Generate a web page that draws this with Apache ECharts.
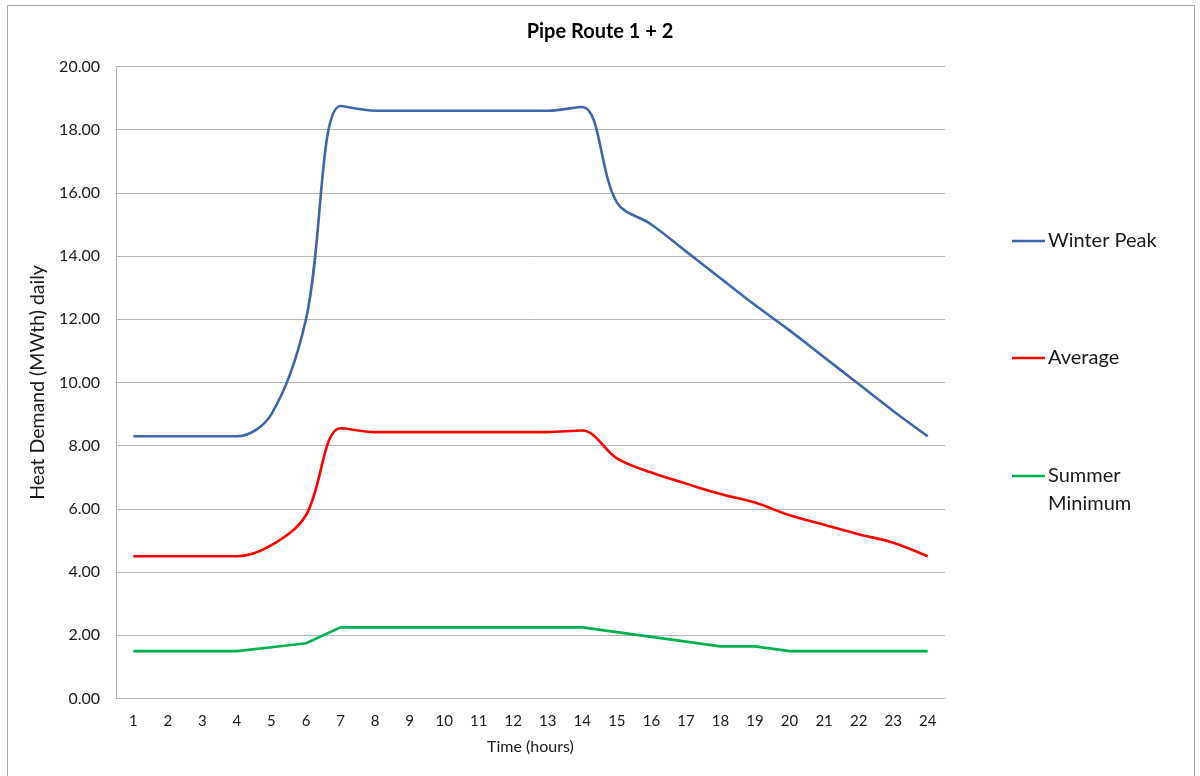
<!DOCTYPE html>
<html>
<head>
<meta charset="utf-8">
<title>Pipe Route 1 + 2</title>
<script src="https://cdn.jsdelivr.net/npm/echarts@6/dist/echarts.min.js"></script>
<style>
  html, body { margin: 0; padding: 0; background: #ffffff; }
  #chart { width: 1200px; height: 776px; }
</style>
</head>
<body>
<div id="chart"></div>
<script>
// Hourly heat demand for pipe routes 1 + 2
const hours = ['1','2','3','4','5','6','7','8','9','10','11','12','13','14','15','16','17','18','19','20','21','22','23','24'];

const winterPeak = [8.3, 8.3, 8.3, 8.3, 9.0, 12.0, 18.75, 18.6, 18.6, 18.6, 18.6, 18.6, 18.6, 18.72, 15.7, 15.0, 14.15, 13.3, 12.45, 11.65, 10.8, 9.95, 9.1, 8.3];
const average = [4.5, 4.5, 4.5, 4.5, 4.85, 5.8, 8.55, 8.43, 8.43, 8.43, 8.43, 8.43, 8.43, 8.48, 7.6, 7.15, 6.8, 6.47, 6.2, 5.8, 5.5, 5.2, 4.93, 4.5];
const summerMinimum = [1.5, 1.5, 1.5, 1.5, 1.62, 1.75, 2.25, 2.25, 2.25, 2.25, 2.25, 2.25, 2.25, 2.25, 2.1, 1.95, 1.8, 1.65, 1.65, 1.5, 1.5, 1.5, 1.5, 1.5];

const yTicks = { min: 0, max: 20, interval: 2 };

const FONT = 'Lato, "Open Sans", sans-serif';
const GRID_COLOR = '#b5b5b5';
const TEXT_COLOR = '#1a1a1a';

const chart = echarts.init(document.getElementById('chart'), null, { renderer: 'canvas' });

// One legend block per series so each entry sits at its own height
function legendAt(name, top, label) {
  return {
    orient: 'vertical',
    left: 1012,
    top: top,
    padding: 0,
    data: [name],
    icon: 'path://M0,0 L33,0 L33,2.6 L0,2.6 Z',
    itemWidth: 33,
    itemHeight: 3,
    itemGap: 0,
    selectedMode: false,
    formatter: label ? () => label : undefined,
    textStyle: { fontFamily: FONT, fontSize: 20, color: TEXT_COLOR, lineHeight: 28, padding: [0, 0, 0, -2] }
  };
}

chart.setOption({
  animation: false,
  backgroundColor: '#ffffff',
  title: {
    text: 'Pipe Route 1 + 2',
    left: 'center',
    top: 22,
    padding: 0,
    textStyle: { fontFamily: FONT, fontSize: 20, fontWeight: 'bold', color: '#000000' }
  },
  graphic: [{
    type: 'rect',
    shape: { x: 7.5, y: 5.5, width: 1187, height: 790 },
    style: { fill: 'none', stroke: '#a6a6a6', lineWidth: 1 },
    silent: true,
    z: -1
  }],
  legend: [
    legendAt('Winter Peak', 227),
    legendAt('Average', 344),
    legendAt('Summer Minimum', 434, '\nSummer\nMinimum')
  ],
  grid: { left: 116, right: 255, top: 66.5, bottom: 77.5, containLabel: false },
  xAxis: {
    type: 'category',
    data: hours,
    boundaryGap: true,
    name: 'Time (hours)',
    nameLocation: 'middle',
    nameGap: 40,
    nameTextStyle: { fontFamily: FONT, fontSize: 16, color: TEXT_COLOR },
    axisLine: { show: true, lineStyle: { color: GRID_COLOR, width: 1 } },
    axisTick: { show: false },
    axisLabel: { fontFamily: FONT, fontSize: 15, color: TEXT_COLOR, margin: 15, interval: 0 },
    splitLine: { show: false }
  },
  yAxis: {
    type: 'value',
    min: yTicks.min,
    max: yTicks.max,
    interval: yTicks.interval,
    name: 'Heat Demand (MWth) daily',
    nameLocation: 'middle',
    nameGap: 57,
    nameRotate: 90,
    nameTextStyle: { fontFamily: FONT, fontSize: 19.5, color: TEXT_COLOR },
    axisLine: { show: true, lineStyle: { color: GRID_COLOR, width: 1 } },
    axisTick: { show: false },
    axisLabel: {
      fontFamily: FONT, fontSize: 16, color: TEXT_COLOR, margin: 16,
      formatter: v => v.toFixed(2)
    },
    splitLine: { show: true, lineStyle: { color: GRID_COLOR, width: 1 } }
  },
  series: [
    {
      name: 'Winter Peak',
      type: 'line',
      data: winterPeak,
      smooth: 0.35,
      symbol: 'none',
      lineStyle: { color: '#3f66ad', width: 2.6 },
      itemStyle: { color: '#3f66ad' }
    },
    {
      name: 'Average',
      type: 'line',
      data: average,
      smooth: 0.35,
      symbol: 'none',
      lineStyle: { color: '#ff0000', width: 2.6 },
      itemStyle: { color: '#ff0000' }
    },
    {
      name: 'Summer Minimum',
      type: 'line',
      data: summerMinimum,
      smooth: false,
      symbol: 'none',
      lineStyle: { color: '#00b050', width: 2.6 },
      itemStyle: { color: '#00b050' }
    }
  ]
});
</script>
</body>
</html>
